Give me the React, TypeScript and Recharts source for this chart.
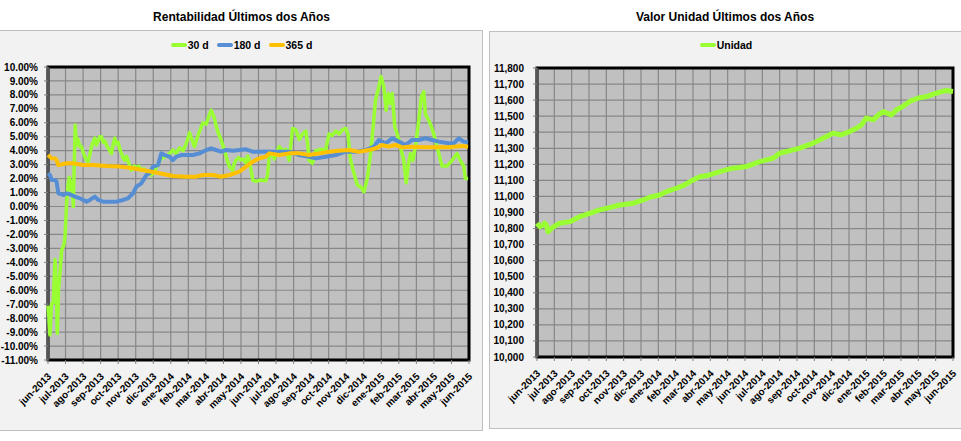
import { LineChart, Line, XAxis, YAxis, CartesianGrid, ReferenceArea, ReferenceLine } from 'recharts';

const FONT = "Arial, 'Liberation Sans', Helvetica, sans-serif";

// x = months since jun-2013
const months = [
  'jun-2013', 'jul-2013', 'ago-2013', 'sep-2013', 'oct-2013', 'nov-2013', 'dic-2013',
  'ene-2014', 'feb-2014', 'mar-2014', 'abr-2014', 'may-2014', 'jun-2014', 'jul-2014',
  'ago-2014', 'sep-2014', 'oct-2014', 'nov-2014', 'dic-2014', 'ene-2015', 'feb-2015',
  'mar-2015', 'abr-2015', 'may-2015', 'jun-2015',
];
const monthTicks = months.map((_, i) => i);
const pctTicks = [-11, -10, -9, -8, -7, -6, -5, -4, -3, -2, -1, 0, 1, 2, 3, 4, 5, 6, 7, 8, 9, 10];
const unitTicks = [10000, 10100, 10200, 10300, 10400, 10500, 10600, 10700, 10800, 10900,
  11000, 11100, 11200, 11300, 11400, 11500, 11600, 11700, 11800];

const ret30: [number, number][] = [
  [0, -7.1], [0.11, -9.2], [0.2, -7.0], [0.3, -6.9], [0.4, -3.8], [0.47, -5.5], [0.53, -9.1],
  [0.6, -6.0], [0.68, -4.8], [0.78, -3.1], [0.9, -2.8], [0.97, -2.2], [1.06, 0.2], [1.14, 1.5],
  [1.21, 2.1], [1.3, 1.2], [1.38, 1.8], [1.44, 0.0], [1.55, 5.84], [1.63, 4.4], [1.72, 4.8],
  [1.81, 4.3], [1.91, 4.3], [2.0, 3.9], [2.1, 3.55], [2.2, 3.3], [2.29, 3.2], [2.38, 3.7],
  [2.48, 4.3], [2.57, 4.6], [2.67, 4.9], [2.76, 4.4], [2.86, 4.7], [2.95, 5.0], [3.05, 5.0],
  [3.14, 4.6], [3.24, 4.7], [3.33, 4.4], [3.43, 4.2], [3.52, 4.0], [3.62, 3.8], [3.71, 4.4],
  [3.81, 4.9], [3.9, 4.5], [4.0, 4.6], [4.1, 4.1], [4.19, 3.8], [4.28, 3.5], [4.38, 3.3],
  [4.47, 3.6], [4.56, 3.3], [4.66, 2.9], [4.75, 2.6], [4.9, 2.9], [5.04, 2.8], [5.18, 2.9],
  [5.32, 2.6], [5.47, 2.7], [5.61, 2.5], [5.75, 2.4], [5.89, 2.25], [6.08, 2.5], [6.22, 2.9],
  [6.36, 3.3], [6.55, 3.5], [6.74, 3.6], [6.93, 3.8], [7.12, 4.05], [7.3, 3.8], [7.5, 4.2],
  [7.7, 4.0], [7.88, 4.5], [8.07, 5.3], [8.2, 4.8], [8.35, 4.3], [8.5, 4.9], [8.64, 5.4],
  [8.83, 6.0], [9.02, 5.9], [9.15, 6.4], [9.3, 6.9], [9.4, 6.6], [9.49, 6.3], [9.58, 5.8],
  [9.68, 5.36], [9.87, 4.77], [10.06, 4.05], [10.2, 3.4], [10.34, 2.86], [10.53, 2.6],
  [10.62, 3.1], [10.72, 3.33], [10.86, 3.5], [11.0, 3.33], [11.15, 3.4], [11.29, 3.1],
  [11.38, 3.6], [11.48, 3.3], [11.58, 2.6], [11.67, 1.9], [11.86, 1.8], [12.14, 1.9],
  [12.42, 1.85], [12.52, 2.3], [12.61, 3.6], [12.75, 3.8], [12.9, 3.4], [13.04, 3.9],
  [13.18, 4.3], [13.37, 4.0], [13.56, 4.1], [13.75, 3.3], [13.85, 4.5], [13.94, 5.6],
  [14.13, 5.5], [14.32, 4.8], [14.51, 5.2], [14.7, 5.4], [14.8, 4.5], [14.89, 3.3],
  [15.07, 3.1], [15.27, 4.0], [15.55, 4.1], [15.83, 4.05], [16.02, 5.2], [16.2, 5.1],
  [16.4, 5.4], [16.6, 5.2], [16.78, 5.5], [16.97, 5.6], [17.1, 5.2], [17.25, 3.3],
  [17.44, 2.4], [17.63, 1.54], [17.82, 1.42], [18.01, 1.06], [18.2, 2.0], [18.39, 3.8],
  [18.52, 5.5], [18.67, 7.6], [18.86, 8.6], [18.99, 9.31], [19.14, 8.6], [19.28, 6.9],
  [19.39, 8.1], [19.52, 7.4], [19.62, 8.1], [19.77, 5.7], [19.91, 5.2], [20.09, 4.3],
  [20.28, 3.3], [20.42, 1.7], [20.53, 2.9], [20.66, 3.8], [20.8, 3.3], [20.95, 4.3],
  [21.14, 6.2], [21.29, 7.9], [21.42, 8.23], [21.52, 6.6], [21.7, 6.2], [21.86, 5.7],
  [21.99, 5.2], [22.18, 4.3], [22.46, 2.9], [22.75, 2.9], [23.03, 3.3], [23.32, 3.8],
  [23.5, 3.3], [23.7, 2.9], [23.79, 2.0], [23.95, 2.0],
];

const ret180: [number, number][] = [
  [0, 2.38], [0.11, 2.26], [0.21, 1.9], [0.4, 1.9], [0.49, 1.78], [0.59, 0.95], [0.87, 0.83],
  [1.06, 0.95], [1.34, 0.83], [1.53, 0.71], [1.82, 0.59], [2.2, 0.35], [2.39, 0.47],
  [2.67, 0.71], [2.86, 0.47], [3.14, 0.35], [3.52, 0.35], [3.9, 0.35], [4.28, 0.47],
  [4.56, 0.59], [4.85, 0.95], [5.04, 1.42], [5.32, 1.66], [5.61, 2.26], [5.8, 2.38],
  [5.98, 2.86], [6.27, 2.97], [6.46, 3.81], [6.65, 3.69], [6.93, 3.57], [7.12, 3.33],
  [7.31, 3.57], [7.6, 3.69], [7.88, 3.69], [8.26, 3.69], [8.64, 3.81], [9.02, 4.05],
  [9.3, 4.17], [9.58, 4.05], [9.87, 3.93], [10.15, 4.05], [10.53, 4.0], [10.91, 4.05],
  [11.29, 4.1], [11.67, 3.93], [12.05, 3.93], [12.42, 3.95], [12.9, 3.93], [13.18, 3.93],
  [13.75, 3.93], [14.32, 3.69], [14.89, 3.57], [15.27, 3.45], [15.83, 3.57], [16.4, 3.69],
  [16.97, 3.93], [17.54, 3.93], [18.1, 4.05], [18.58, 4.29], [18.86, 4.77], [19.24, 4.53],
  [19.62, 4.89], [20.0, 4.65], [20.38, 4.41], [20.76, 4.77], [21.14, 4.77], [21.52, 4.89],
  [21.9, 4.77], [22.28, 4.65], [22.84, 4.53], [23.13, 4.53], [23.41, 4.89], [23.7, 4.65],
  [23.95, 4.6],
];

const ret365: [number, number][] = [
  [0, 3.69], [0.21, 3.45], [0.4, 3.45], [0.49, 3.33], [0.59, 2.97], [1.06, 3.1], [1.44, 3.1],
  [2.01, 2.97], [2.58, 2.97], [3.33, 2.9], [4.09, 2.86], [4.85, 2.74], [5.61, 2.57],
  [6.36, 2.38], [7.12, 2.19], [7.88, 2.14], [8.45, 2.14], [8.83, 2.26], [9.4, 2.26],
  [9.87, 2.14], [10.34, 2.26], [10.91, 2.5], [11.29, 2.86], [11.67, 3.21], [12.04, 3.45],
  [12.42, 3.57], [12.61, 3.81], [13.18, 3.69], [13.75, 3.81], [14.32, 3.81], [14.89, 3.69],
  [15.46, 3.81], [16.02, 3.93], [16.59, 4.0], [17.16, 4.05], [17.73, 3.93], [18.29, 4.05],
  [18.67, 4.17], [19.05, 4.41], [19.43, 4.29], [19.81, 4.41], [20.19, 4.24], [20.57, 4.29],
  [21.52, 4.24], [22.84, 4.24], [23.6, 4.33], [23.95, 4.29],
];

const unidad: [number, number][] = [
  [0, 10833], [0.16, 10811], [0.35, 10822], [0.44, 10833], [0.54, 10822], [0.64, 10780],
  [0.83, 10801], [1.12, 10822], [1.31, 10833], [1.89, 10843], [2.46, 10874], [3.04, 10895],
  [3.62, 10916], [4.0, 10926], [4.39, 10936], [4.77, 10947], [5.54, 10957], [6.12, 10978],
  [6.5, 10995], [7.08, 11009], [7.47, 11030], [8.04, 11051], [8.52, 11072], [9.0, 11103],
  [9.39, 11123], [9.97, 11134], [10.54, 11155], [11.3, 11176], [12.08, 11186], [12.85, 11217],
  [13.62, 11238], [14.0, 11269], [14.77, 11290], [15.16, 11301], [15.93, 11332], [16.5, 11363],
  [17.08, 11394], [17.56, 11384], [18.04, 11404], [18.43, 11425], [18.72, 11446], [19.0, 11488],
  [19.4, 11477], [19.7, 11508], [19.97, 11529], [20.45, 11508], [20.74, 11540], [21.1, 11560],
  [21.5, 11592], [22.0, 11613], [22.5, 11623], [23.05, 11644], [23.6, 11660], [24.0, 11654],
];

const GREEN = '#99ff33';
const BLUE = '#558ed5';
const ORANGE = '#ffc000';

const toPts = (arr: [number, number][]) => arr.map(([t, v]) => ({ t, v }));

const MonthTick = (props: any) => {
  const { x, y, payload } = props;
  const ax = x + 4;
  const ay = y + 11;
  return (
    <text
      x={ax}
      y={ay}
      transform={`rotate(-45 ${ax} ${ay})`}
      textAnchor="end"
      fontSize={10}
      fontWeight="bold"
      fill="#000"
      fontFamily={FONT}
    >
      {months[payload.value]}
    </text>
  );
};

const tickStyle = { fontSize: 10, fontWeight: 'bold', fill: '#000', fontFamily: FONT } as any;

function LegendItem({ color, label }: { color: string; label: string }) {
  return (
    <span style={{ display: 'flex', alignItems: 'center' }}>
      <span style={{ width: 16, height: 4, borderRadius: 2, background: color, marginRight: 1 }} />
      {label}
    </span>
  );
}

export default function App() {
  return (
    <div style={{ position: 'absolute', left: 0, top: 0, width: 961, height: 441, background: '#fff', fontFamily: FONT, overflow: 'hidden' }}>
      <div style={{ position: 'absolute', left: 0, top: 10, width: 483, textAlign: 'center', fontSize: 12, fontWeight: 'bold' }}>
        Rentabilidad Últimos dos Años
      </div>
      <div style={{ position: 'absolute', left: 489, top: 10, width: 472, textAlign: 'center', fontSize: 12, fontWeight: 'bold' }}>
        Valor Unidad Últimos dos Años
      </div>

      <div style={{ position: 'absolute', left: -1, top: 30, width: 484, height: 401, boxSizing: 'border-box', background: '#f2f2f2', border: '1px solid #bfbfbf' }} />
      <div style={{ position: 'absolute', left: 489, top: 31, width: 474, height: 398, boxSizing: 'border-box', background: '#f2f2f2', border: '1px solid #bfbfbf' }} />

      <div style={{ position: 'absolute', left: 0, top: 39, width: 483, display: 'flex', justifyContent: 'center', gap: 8, fontSize: 10.5, fontWeight: 'bold' }}>
        <LegendItem color={GREEN} label="30 d" />
        <LegendItem color={BLUE} label="180 d" />
        <LegendItem color={ORANGE} label="365 d" />
      </div>
      <div style={{ position: 'absolute', left: 489, top: 39, width: 474, display: 'flex', justifyContent: 'center', fontSize: 10.5, fontWeight: 'bold' }}>
        <LegendItem color={GREEN} label="Unidad" />
      </div>

      <div style={{ position: 'absolute', left: 0, top: 30 }}>
        <LineChart width={483} height={400} margin={{ top: 37, right: 14, bottom: 10, left: 0 }}>
          <CartesianGrid stroke="#878787" strokeWidth={1.2} fill="#c0c0c0" fillOpacity={1} />
          <XAxis
            dataKey="t"
            type="number"
            domain={[0, 24]}
            ticks={monthTicks}
            interval={0}
            height={60}
            axisLine={false}
            tickLine={{ stroke: '#808080' }}
            tickSize={4}
            tick={<MonthTick />}
          />
          <YAxis
            type="number"
            domain={[-11, 10]}
            ticks={pctTicks}
            interval={0}
            width={48}
            axisLine={false}
            tickLine={{ stroke: '#808080' }}
            tickSize={4}
            tickMargin={6}
            tick={tickStyle}
            tickFormatter={(v: number) => `${v.toFixed(2)}%`}
          />
          <ReferenceArea x1={0} x2={24} y1={-11} y2={10} fill="none" stroke="#000" strokeWidth={3} />
          <ReferenceLine x={0} stroke="#555" strokeWidth={3} />
          <Line data={toPts(ret30)} dataKey="v" stroke={GREEN} strokeWidth={3.5} dot={false} isAnimationActive={false} strokeLinejoin="round" />
          <Line data={toPts(ret180)} dataKey="v" stroke={BLUE} strokeWidth={4} dot={false} isAnimationActive={false} strokeLinejoin="round" />
          <Line data={toPts(ret365)} dataKey="v" stroke={ORANGE} strokeWidth={4} dot={false} isAnimationActive={false} strokeLinejoin="round" />
        </LineChart>
      </div>

      <div style={{ position: 'absolute', left: 489, top: 30 }}>
        <LineChart width={472} height={398} margin={{ top: 38, right: 8, bottom: 11, left: 0 }}>
          <CartesianGrid stroke="#878787" strokeWidth={1.2} fill="#c0c0c0" fillOpacity={1} />
          <XAxis
            dataKey="t"
            type="number"
            domain={[0, 24]}
            ticks={monthTicks}
            interval={0}
            height={60}
            axisLine={false}
            tickLine={{ stroke: '#808080' }}
            tickSize={4}
            tick={<MonthTick />}
          />
          <YAxis
            type="number"
            domain={[10000, 11800]}
            ticks={unitTicks}
            interval={0}
            width={48}
            axisLine={false}
            tickLine={{ stroke: '#808080' }}
            tickSize={4}
            tickMargin={9}
            tick={tickStyle}
            tickFormatter={(v: number) => v.toLocaleString('en-US')}
          />
          <ReferenceArea x1={0} x2={24} y1={10000} y2={11800} fill="none" stroke="#000" strokeWidth={3} />
          <ReferenceLine x={0} stroke="#555" strokeWidth={3} />
          <Line data={toPts(unidad)} dataKey="v" stroke={GREEN} strokeWidth={5} dot={false} isAnimationActive={false} strokeLinejoin="round" />
        </LineChart>
      </div>
    </div>
  );
}
